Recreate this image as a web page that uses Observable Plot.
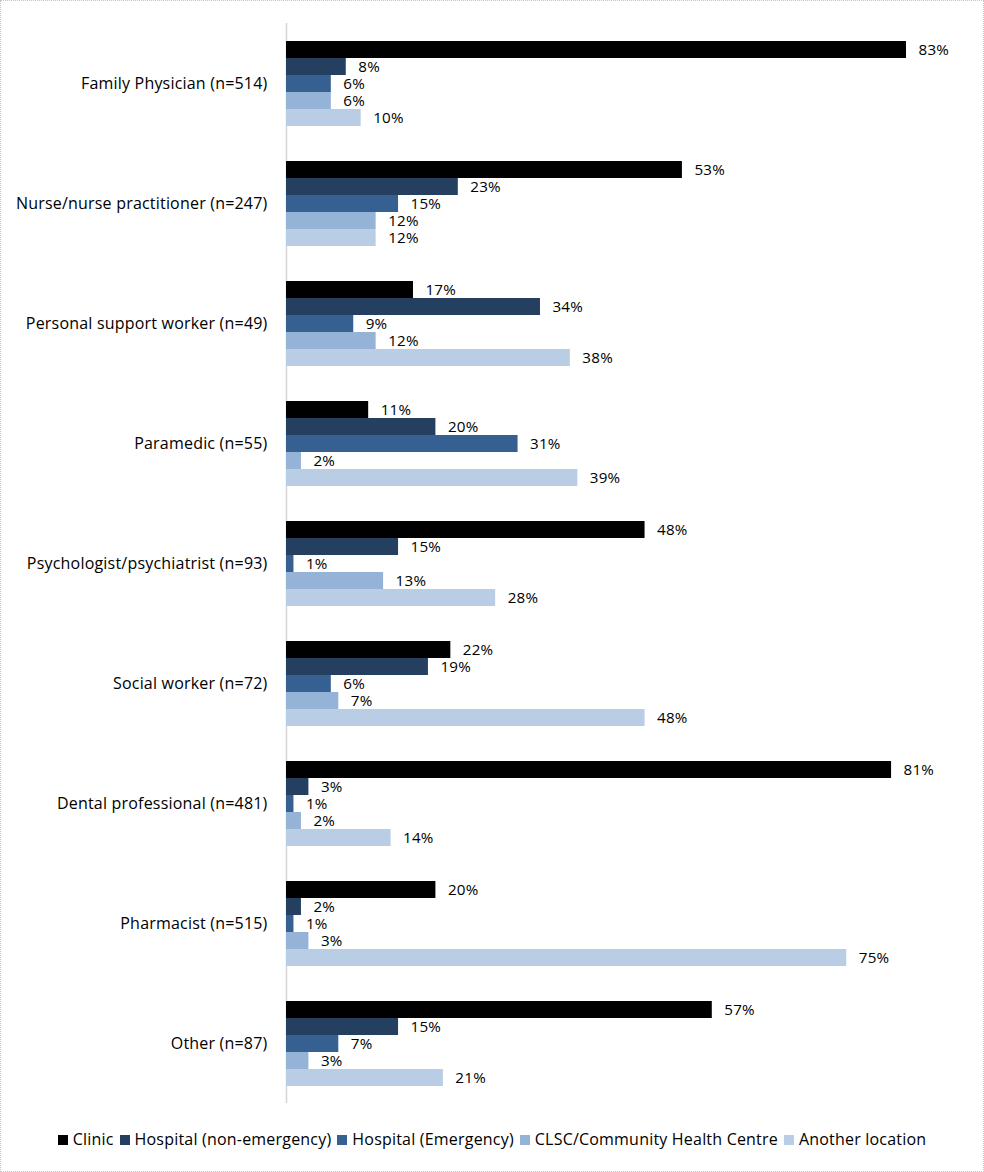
<!DOCTYPE html>
<html>
<head>
<meta charset="utf-8">
<script src="https://cdn.jsdelivr.net/npm/d3@7"></script>
<script src="https://cdn.jsdelivr.net/npm/@observablehq/plot@0.6"></script>
<style>
  html, body { margin: 0; padding: 0; background: #fff; }
  #wrap { position: relative; width: 984px; height: 1172px; font-family: "Open Sans", sans-serif; }
  #border { position: absolute; left: 0; top: 0; width: 984px; height: 1172px; box-sizing: border-box; border: 1px dotted #c4c4c4; pointer-events: none; }
  #chart { position: absolute; left: 0; top: 0; }
  #legend { position: absolute; left: 0; top: 1128px; width: 984px; text-align: center; font-size: 16px; letter-spacing: 0.2px; color: #000; white-space: nowrap; }
  #legend span.item { display: inline-block; margin: 0 3px; }
  #legend span.sw { display: inline-block; width: 10px; height: 10px; margin-right: 5px; vertical-align: 0px; }
</style>
</head>
<body>
<div id="wrap">
  <div id="chart"></div>
  <div id="legend"></div>
  <div id="border"></div>
</div>
<script>
const categories = [
  "Family Physician (n=514)",
  "Nurse/nurse practitioner (n=247)",
  "Personal support worker (n=49)",
  "Paramedic (n=55)",
  "Psychologist/psychiatrist (n=93)",
  "Social worker (n=72)",
  "Dental professional (n=481)",
  "Pharmacist (n=515)",
  "Other (n=87)"
];
const series = ["Clinic", "Hospital (non-emergency)", "Hospital (Emergency)", "CLSC/Community Health Centre", "Another location"];
const colors = ["#000000", "#243F60", "#376092", "#95B3D7", "#B9CDE5"];

const clinic      = [83, 53, 17, 11, 48, 22, 81, 20, 57];
const hospitalNon = [8, 23, 34, 20, 15, 19, 3, 2, 15];
const hospitalEm  = [6, 15, 9, 31, 1, 6, 1, 1, 7];
const clsc        = [6, 12, 12, 2, 13, 7, 2, 3, 3];
const another     = [10, 12, 38, 39, 28, 48, 14, 75, 21];

const seriesValues = [clinic, hospitalNon, hospitalEm, clsc, another];
const data = [];
categories.forEach((c, i) => {
  series.forEach((s, j) => {
    data.push({category: c, series: s, value: seriesValues[j][i]});
  });
});

const chart = Plot.plot({
  width: 984,
  height: 1110,
  marginTop: 23,
  marginBottom: 7,
  marginLeft: 286,
  marginRight: 0,
  style: {fontFamily: "'Open Sans', sans-serif", fontSize: "16px", letterSpacing: "0.2px", color: "#000", background: "transparent", overflow: "visible"},
  fy: {domain: categories, padding: 0, label: null, tickSize: 0, tickPadding: 19, axis: "left"},
  y: {domain: series, paddingInner: 0, paddingOuter: 0.91, axis: null},
  x: {domain: [0, 100], range: [286, 1033], axis: null},
  color: {domain: series, range: colors},
  marks: [
    Plot.ruleX([0], {stroke: "#d4d4d4", strokeWidth: 1.5}),
    Plot.barX(data, {fy: "category", y: "series", x: "value", fill: "series"}),
    Plot.text(data, {fy: "category", y: "series", x: "value", text: d => d.value + "%", textAnchor: "start", dx: 12, fill: "#000", fontSize: 15.2})
  ]
});
document.getElementById("chart").appendChild(chart);

const legend = document.getElementById("legend");
series.forEach((s, j) => {
  const item = document.createElement("span");
  item.className = "item";
  const sw = document.createElement("span");
  sw.className = "sw";
  sw.style.background = colors[j];
  item.appendChild(sw);
  item.appendChild(document.createTextNode(s));
  legend.appendChild(item);
});
</script>
</body>
</html>
